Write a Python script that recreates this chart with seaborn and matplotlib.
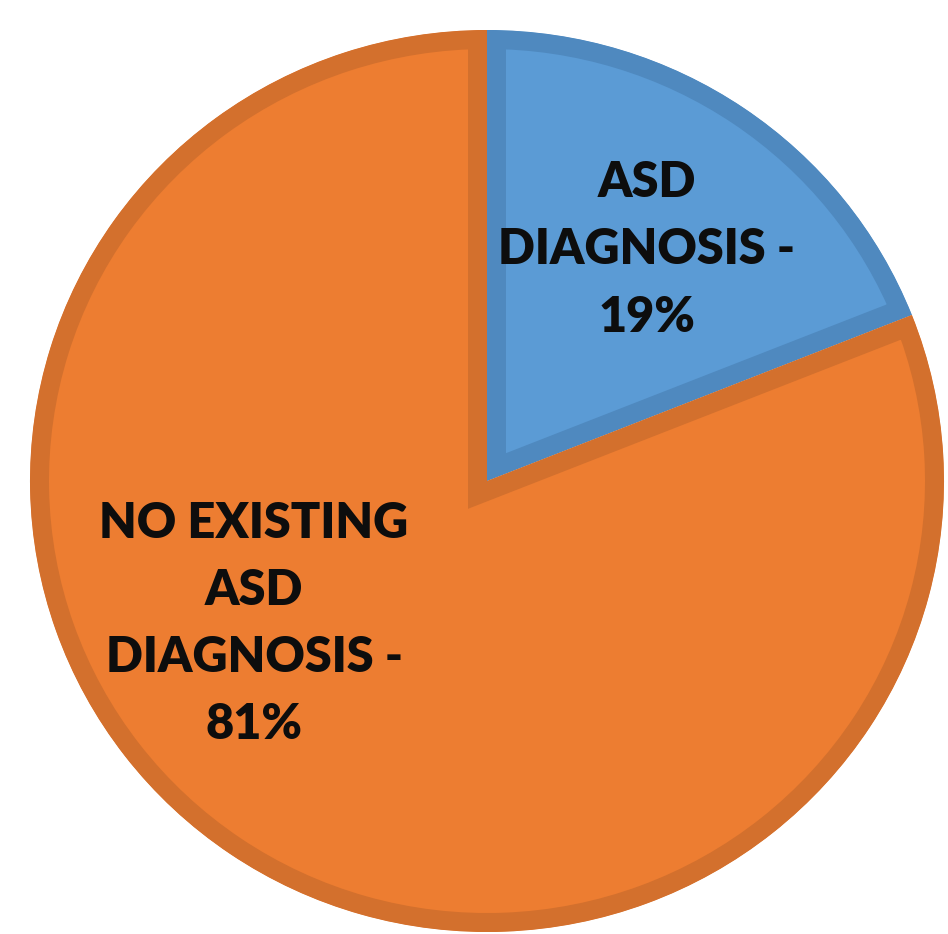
import matplotlib
matplotlib.use("Agg")
import matplotlib.pyplot as plt
import seaborn as sns

categories = ["ASD DIAGNOSIS", "NO EXISTING ASD DIAGNOSIS"]
values = [19, 81]
labels = ["ASD\nDIAGNOSIS -\n19%", "NO EXISTING\nASD\nDIAGNOSIS -\n81%"]

sns.set_theme(style="white")
plt.rcParams['font.family'] = ['Lato', 'DejaVu Sans']

fill_colors = ["#5B9BD5", "#ED7D31"]
edge_colors = ["#4F89BF", "#D3702D"]

W, H, DPI = 948, 934, 100
fig = plt.figure(figsize=(W / DPI, H / DPI), dpi=DPI)
ax = fig.add_axes([0, 0, 1, 1])

cx, cy, rx, ry = 487, 481, 457, 451
border_px = 19

wedges, _ = ax.pie(values, colors=fill_colors, startangle=90, counterclock=False,
                   radius=1, center=(0, 0),
                   wedgeprops=dict(linewidth=2 * border_px * 72 / DPI))
for w, ec in zip(wedges, edge_colors):
    w.set_edgecolor(ec)
    w.set_clip_on(True)
    w.set_clip_path(w)

ax.set_aspect('auto')
ax.set_xlim(-cx / rx, (W - cx) / rx)
ax.set_ylim(-(H - cy) / ry, cy / ry)
ax.axis('off')

pos = [(647, 250), (254, 624)]
for lab, (px, py) in zip(labels, pos):
    ax.text((px - cx) / rx, (cy - py) / ry, lab, ha='center', va='center',
            fontsize=35, fontweight='heavy', color='#0D0D0D', linespacing=1.6)

fig.savefig("out.png", dpi=DPI)
